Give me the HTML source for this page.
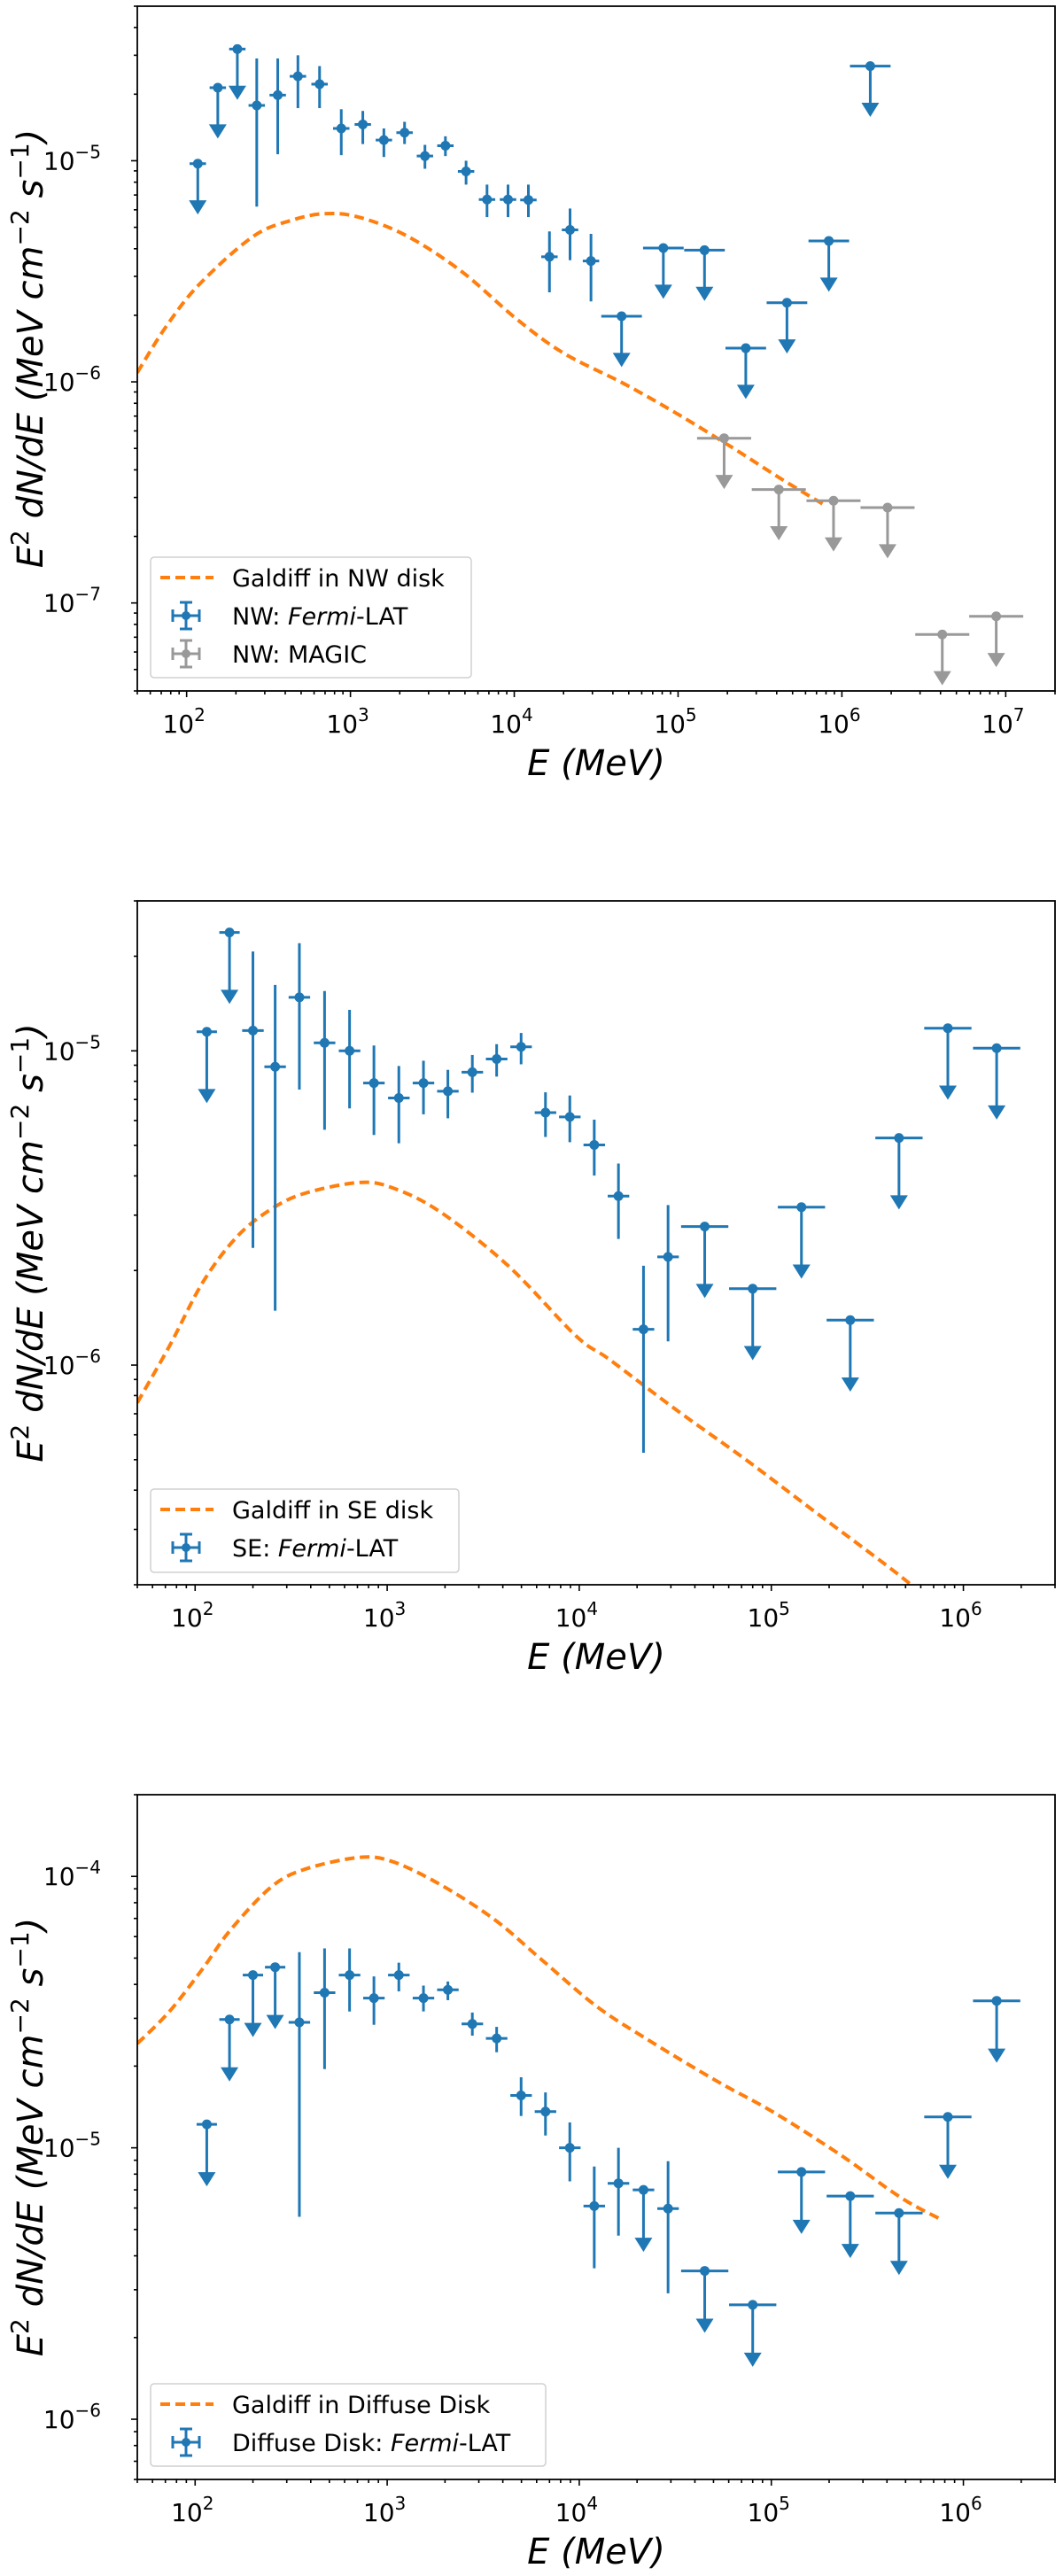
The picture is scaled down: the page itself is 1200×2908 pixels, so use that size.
<!DOCTYPE html>
<html><head><meta charset="utf-8">
<style>
html,body{margin:0;padding:0;background:#fff;}
svg{display:block;font-family:"DejaVu Sans","Liberation Sans",sans-serif;}
</style></head>
<body>
<svg id="fig" width="1200" height="2908" viewBox="0 0 1200 2908" xmlns="http://www.w3.org/2000/svg"></svg>
<script>
// ---------- Panel 1: NW ----------
const nwE   = [117,155,204,268,360,478,648,879,1190,1600,2140,2850,3800,5080,6820,9160,12200,16400,21900,29400,45200,81300,145000,259000,462000,832000,1490000];
const nwF   = [9.7e-6,2.14e-5,3.2e-5,1.78e-5,1.98e-5,2.41e-5,2.22e-5,1.40e-5,1.46e-5,1.24e-5,1.34e-5,1.05e-5,1.17e-5,8.95e-6,6.68e-6,6.68e-6,6.65e-6,3.68e-6,4.87e-6,3.52e-6,1.98e-6,4.03e-6,3.94e-6,1.42e-6,2.28e-6,4.34e-6,2.68e-5];
const nwHi  = [null,null,null,2.9e-5,2.9e-5,3.0e-5,2.68e-5,1.71e-5,1.68e-5,1.40e-5,1.5e-5,1.18e-5,1.29e-5,1.0e-5,7.8e-6,7.8e-6,7.8e-6,4.79e-6,6.08e-6,4.67e-6,null,null,null,null,null,null,null];
const nwLo  = [null,null,null,6.2e-6,1.07e-5,1.73e-5,1.73e-5,1.06e-5,1.19e-5,1.04e-5,1.19e-5,9.2e-6,1.05e-5,7.8e-6,5.56e-6,5.56e-6,5.56e-6,2.54e-6,3.55e-6,2.31e-6,null,null,null,null,null,null,null];
const nwXerr= [0.05,0.05,0.05,0.05,0.05,0.05,0.05,0.05,0.05,0.05,0.05,0.05,0.05,0.05,0.05,0.05,0.05,0.05,0.05,0.05,0.124,0.124,0.124,0.124,0.124,0.124,0.124];
const magicE = [191000,412000,889000,1900000,4100000,8750000];
const magicF = [5.56e-7,3.26e-7,2.9e-7,2.7e-7,7.2e-8,8.7e-8];
const magicXerr = [0.165,0.165,0.165,0.165,0.165,0.165];
const nwGalE = [50,73.8,119,254,448,719,1156,2249,4810,10280,19950,46900,100000,213800,416000,771000];
const nwGalF = [1.1e-6,1.75e-6,2.75e-6,4.54e-6,5.41e-6,5.77e-6,5.53e-6,4.54e-6,3.14e-6,1.93e-6,1.35e-6,9.8e-7,7.13e-7,5.05e-7,3.68e-7,2.79e-7];
const p1XTicks = [2,3,4,5,6,7];
const p1YTicks = [-7,-6,-5];

// ---------- Panel 2: SE ----------
const seE   = [115,151,200,261,349,472,637,853,1150,1545,2070,2775,3715,4980,6670,8930,11970,16000,21600,29000,45000,80000,143500,257600,462000,830000,1490000];
const seF   = [1.15e-5,2.38e-5,1.16e-5,8.9e-6,1.48e-5,1.06e-5,1.0e-5,7.9e-6,7.08e-6,7.9e-6,7.44e-6,8.55e-6,9.42e-6,1.03e-5,6.36e-6,6.16e-6,5.02e-6,3.45e-6,1.3e-6,2.21e-6,2.76e-6,1.75e-6,3.18e-6,1.39e-6,5.28e-6,1.18e-5,1.02e-5];
const seHi  = [null,null,2.07e-5,1.62e-5,2.2e-5,1.55e-5,1.35e-5,1.04e-5,8.95e-6,9.3e-6,8.7e-6,9.7e-6,1.05e-5,1.14e-5,7.38e-6,7.21e-6,6.04e-6,4.38e-6,2.07e-6,3.23e-6,null,null,null,null,null,null,null];
const seLo  = [null,null,2.36e-6,1.49e-6,7.53e-6,5.61e-6,6.56e-6,5.4e-6,5.08e-6,6.28e-6,6.1e-6,7.36e-6,8.28e-6,9.06e-6,5.32e-6,5.12e-6,4.01e-6,2.52e-6,5.26e-7,1.19e-6,null,null,null,null,null,null,null];
const seXerr= [0.053,0.053,0.056,0.056,0.056,0.056,0.056,0.056,0.056,0.056,0.056,0.056,0.056,0.056,0.056,0.056,0.056,0.056,0.056,0.056,0.123,0.123,0.123,0.123,0.123,0.123,0.123];
const seGalE = [50,73.5,110,166,248,372,715,1072,1892,4266,9594,14420,32430,73100,164800,371500,534600,835000];
const seGalF = [7.59e-7,1.15e-6,1.84e-6,2.57e-6,3.13e-6,3.52e-6,3.81e-6,3.66e-6,3.07e-6,2.07e-6,1.24e-6,1.04e-6,7.16e-7,5.02e-7,3.45e-7,2.38e-7,2.0e-7,1.6e-7];
const p2XTicks = [2,3,4,5,6];
const p2YTicks = [-6,-5];

// ---------- Panel 3: Diffuse Disk ----------
const ddE   = [115,151,200,261,349,472,637,853,1150,1545,2070,2775,3715,4980,6670,8930,11970,16000,21600,29000,45000,80000,143500,257600,462000,830000,1490000];
const ddF   = [1.22e-5,2.97e-5,4.33e-5,4.63e-5,2.9e-5,3.73e-5,4.33e-5,3.56e-5,4.33e-5,3.56e-5,3.82e-5,2.86e-5,2.53e-5,1.56e-5,1.36e-5,1.0e-5,6.1e-6,7.4e-6,7.0e-6,5.97e-6,3.52e-6,2.64e-6,8.15e-6,6.64e-6,5.75e-6,1.3e-5,3.48e-5];
const ddHi  = [null,null,null,null,5.26e-5,5.43e-5,5.43e-5,4.28e-5,4.81e-5,3.96e-5,4.1e-5,3.15e-5,2.79e-5,1.82e-5,1.6e-5,1.24e-5,8.53e-6,1.0e-5,null,8.93e-6,null,null,null,null,null,null,null];
const ddLo  = [null,null,null,null,5.57e-6,1.95e-5,3.18e-5,2.84e-5,3.77e-5,3.18e-5,3.5e-5,2.59e-5,2.25e-5,1.31e-5,1.11e-5,7.52e-6,3.6e-6,4.75e-6,null,2.91e-6,null,null,null,null,null,null,null];
const ddXerr= [0.053,0.053,0.053,0.053,0.056,0.056,0.056,0.056,0.056,0.056,0.056,0.056,0.056,0.056,0.056,0.056,0.056,0.056,0.056,0.056,0.123,0.123,0.123,0.123,0.123,0.123,0.123];
const ddGalE = [50,73.5,110,152,248,372,715,1072,1892,3622,6397,12250,23440,52840,101200,228000,473000,783000];
const ddGalF = [2.42e-5,3.18e-5,4.59e-5,6.32e-5,9.12e-5,1.062e-4,1.175e-4,1.132e-4,9.33e-5,6.93e-5,4.92e-5,3.33e-5,2.47e-5,1.75e-5,1.36e-5,9.44e-6,6.55e-6,5.4e-6];
const p3XTicks = [2,3,4,5,6];
const p3YTicks = [-6,-5,-4];

const NS = "http://www.w3.org/2000/svg";
const svg = document.getElementById('fig');
const BLUE = "#1f77b4", ORANGE = "#ff7f0e", GREY = "#999999";

function mk(tag, attrs, parent) {
  const e = document.createElementNS(NS, tag);
  for (const k in attrs) e.setAttribute(k, attrs[k]);
  parent.appendChild(e);
  return e;
}

function smoothPath(pts) {
  let d = 'M' + pts[0][0].toFixed(1) + ',' + pts[0][1].toFixed(1);
  for (let i = 0; i < pts.length - 1; i++) {
    const p0 = pts[Math.max(0, i - 1)], p1 = pts[i], p2 = pts[i + 1], p3 = pts[Math.min(pts.length - 1, i + 2)];
    const c1x = p1[0] + (p2[0] - p0[0]) / 6, c1y = p1[1] + (p2[1] - p0[1]) / 6;
    const c2x = p2[0] - (p3[0] - p1[0]) / 6, c2y = p2[1] - (p3[1] - p1[1]) / 6;
    d += 'C' + c1x.toFixed(1) + ',' + c1y.toFixed(1) + ' ' + c2x.toFixed(1) + ',' + c2y.toFixed(1) + ' ' + p2[0].toFixed(1) + ',' + p2[1].toFixed(1);
  }
  return d;
}

function drawPanel(cfg) {
  const g = mk('g', {}, svg);
  
  
  const L = cfg.left, R = cfg.right, T = cfg.top, B = cfg.bottom;
  const lx0 = Math.log10(cfg.xmin), lx1 = Math.log10(cfg.xmax);
  const ly0 = Math.log10(cfg.ymin), ly1 = Math.log10(cfg.ymax);
  const X = v => L + (Math.log10(v) - lx0) / (lx1 - lx0) * (R - L);
  const Y = v => B - (Math.log10(v) - ly0) / (ly1 - ly0) * (B - T);

  const clipId = cfg.name + '-clip';
  const defs = mk('defs', {}, g);
  const cp = mk('clipPath', {id: clipId}, defs);
  mk('rect', {x: L, y: T, width: R - L, height: B - T}, cp);

  const plot = mk('g', {'clip-path': 'url(#' + clipId + ')'}, g);
  
  

  const pts = cfg.galE.map((e, i) => [X(e), Y(cfg.galF[i])]);
  const curve = mk('path', {d: smoothPath(pts), fill: 'none', stroke: ORANGE, 'stroke-width': 4, 'stroke-dasharray': '11,6'}, plot);
  
  

  function series(E, F, Hi, Lo, Xe, color, sname) {
    const sg = mk('g', {}, plot);
    
    
    E.forEach((e, i) => {
      const pg = mk('g', {stroke: color, fill: color, 'stroke-width': 3}, sg);
      
      
      const x = X(e), y = Y(F[i]);
      const xl = X(e / Math.pow(10, Xe[i])), xr = X(e * Math.pow(10, Xe[i]));
      mk('line', {x1: xl, y1: y, x2: xr, y2: y}, pg);
      const isUL = Hi[i] === null || Hi[i] === undefined;
      if (isUL) {
        const yb = Y(F[i] * 0.6);
        mk('line', {x1: x, y1: y, x2: x, y2: yb - 12}, pg);
        mk('path', {d: 'M' + (x - 10) + ',' + (yb - 14) + 'L' + (x + 10) + ',' + (yb - 14) + 'L' + x + ',' + (yb + 2) + 'Z', stroke: 'none'}, pg);
      } else {
        mk('line', {x1: x, y1: Y(Hi[i]), x2: x, y2: Y(Lo[i])}, pg);
      }
      mk('circle', {cx: x, cy: y, r: 5.5, stroke: 'none'}, pg);
    });
  }
  series(cfg.E, cfg.F, cfg.Hi, cfg.Lo, cfg.Xe, BLUE, 'fermi-lat-series');
  if (cfg.gE) series(cfg.gE, cfg.gF, cfg.gE.map(() => null), cfg.gE.map(() => null), cfg.gXe, GREY, 'magic-series');

  const ax = mk('g', {stroke: '#000', 'stroke-width': 1.6}, g);
  
  
  for (let p = Math.floor(lx0); p <= Math.ceil(lx1); p++) {
    for (let m = 1; m <= 9; m++) {
      const v = m * Math.pow(10, p);
      if (v < cfg.xmin * 0.999 || v > cfg.xmax * 1.001) continue;
      const x = X(v);
      mk('line', {x1: x, y1: B, x2: x, y2: B + (m === 1 ? 7 : 4)}, ax);
    }
  }
  for (let p = Math.floor(ly0); p <= Math.ceil(ly1); p++) {
    for (let m = 1; m <= 9; m++) {
      const v = m * Math.pow(10, p);
      if (v < cfg.ymin * 0.999 || v > cfg.ymax * 1.001) continue;
      const y = Y(v);
      mk('line', {x1: L, y1: y, x2: L - (m === 1 ? 7 : 4), y2: y}, ax);
    }
  }
  const frame = mk('rect', {x: L, y: T, width: R - L, height: B - T, fill: 'none', stroke: '#000', 'stroke-width': 1.8}, g);
  
  

  cfg.xTicks.forEach(p => {
    const t = mk('text', {x: X(Math.pow(10, p)) - 3, y: B + 47, 'font-size': 28, 'text-anchor': 'middle'}, g);
    
    
    t.innerHTML = '10<tspan dy="-13" font-size="20">' + p + '</tspan>';
  });
  cfg.yTicks.forEach(p => {
    const t = mk('text', {x: 114, y: Y(Math.pow(10, p)) + 10, 'font-size': 28, 'text-anchor': 'end'}, g);
    
    
    t.innerHTML = '10<tspan dy="-13" font-size="20">\u2212' + Math.abs(p) + '</tspan>';
  });

  const xl = mk('text', {x: (L + R) / 2, y: B + 95, 'font-size': 40, 'font-style': 'italic', 'text-anchor': 'middle'}, g);
  
  
  xl.textContent = 'E (MeV)';
  const cy = (T + B) / 2;
  const yl = mk('text', {x: 0, y: 0, 'font-size': 40, 'font-style': 'italic', 'text-anchor': 'middle', transform: 'translate(48,' + cy + ') rotate(-90)'}, g);
  
  
  yl.innerHTML = 'E<tspan dy="-16" font-size="28" font-style="normal">2</tspan><tspan dy="16"> dN/dE (MeV cm</tspan><tspan dy="-16" font-size="28" font-style="normal">\u22122</tspan><tspan dy="16"> s</tspan><tspan dy="-16" font-size="28" font-style="normal">\u22121</tspan><tspan dy="16">)</tspan>';

  const lg = mk('g', {}, g);
  
  
  const lb = cfg.legend;
  mk('rect', {x: lb.x, y: lb.y, width: lb.w, height: lb.h, rx: 4, fill: '#fff', 'fill-opacity': 0.85, stroke: '#d0d0d0', 'stroke-width': 1.5}, lg);
  lb.items.forEach((it, i) => {
    const ey = lb.y + 23 + i * 43;
    const hx = lb.x + 40;
    const ig = mk('g', {}, lg);
    
    
    if (it.type === 'line') {
      mk('line', {x1: hx - 29, y1: ey, x2: hx + 31, y2: ey, stroke: ORANGE, 'stroke-width': 4, 'stroke-dasharray': '11,6'}, ig);
    } else {
      const c = it.color;
      mk('line', {x1: hx, y1: ey - 15, x2: hx, y2: ey + 15, stroke: c, 'stroke-width': 3}, ig);
      mk('line', {x1: hx - 7, y1: ey - 15, x2: hx + 7, y2: ey - 15, stroke: c, 'stroke-width': 3}, ig);
      mk('line', {x1: hx - 7, y1: ey + 15, x2: hx + 7, y2: ey + 15, stroke: c, 'stroke-width': 3}, ig);
      mk('line', {x1: hx - 15, y1: ey, x2: hx + 15, y2: ey, stroke: c, 'stroke-width': 3}, ig);
      mk('line', {x1: hx - 15, y1: ey - 7, x2: hx - 15, y2: ey + 7, stroke: c, 'stroke-width': 3}, ig);
      mk('line', {x1: hx + 15, y1: ey - 7, x2: hx + 15, y2: ey + 7, stroke: c, 'stroke-width': 3}, ig);
      mk('circle', {cx: hx, cy: ey, r: 5, fill: c}, ig);
    }
    const t = mk('text', {x: lb.x + 92, y: ey + 10, 'font-size': 27}, ig);
    t.innerHTML = it.label;
  });
}

drawPanel({name: 'nw-panel', left: 155, right: 1191, top: 7, bottom: 780,
  xmin: 50, xmax: 2e7, ymin: 4e-8, ymax: 5e-5,
  E: nwE, F: nwF, Hi: nwHi, Lo: nwLo, Xe: nwXerr,
  gE: magicE, gF: magicF, gXe: magicXerr,
  galE: nwGalE, galF: nwGalF, xTicks: p1XTicks, yTicks: p1YTicks,
  legend: {x: 170, y: 629, w: 362, h: 136, items: [
    {type: 'line', label: 'Galdiff in NW disk'},
    {type: 'err', color: BLUE, label: 'NW: <tspan font-style="italic">Fermi</tspan>-LAT'},
    {type: 'err', color: GREY, label: 'NW: MAGIC'}]}});

drawPanel({name: 'se-panel', left: 155, right: 1191, top: 1017, bottom: 1789,
  xmin: 50, xmax: 3e6, ymin: 2e-7, ymax: 3e-5,
  E: seE, F: seF, Hi: seHi, Lo: seLo, Xe: seXerr,
  galE: seGalE, galF: seGalF, xTicks: p2XTicks, yTicks: p2YTicks,
  legend: {x: 170, y: 1681, w: 348, h: 94, items: [
    {type: 'line', label: 'Galdiff in SE disk'},
    {type: 'err', color: BLUE, label: 'SE: <tspan font-style="italic">Fermi</tspan>-LAT'}]}});

drawPanel({name: 'diffuse-disk-panel', left: 155, right: 1191, top: 2026, bottom: 2799,
  xmin: 50, xmax: 3e6, ymin: 6e-7, ymax: 2e-4,
  E: ddE, F: ddF, Hi: ddHi, Lo: ddLo, Xe: ddXerr,
  galE: ddGalE, galF: ddGalF, xTicks: p3XTicks, yTicks: p3YTicks,
  legend: {x: 170, y: 2691, w: 446, h: 93, items: [
    {type: 'line', label: 'Galdiff in Diffuse Disk'},
    {type: 'err', color: BLUE, label: 'Diffuse Disk: <tspan font-style="italic">Fermi</tspan>-LAT'}]}});
</script>
</body></html>
